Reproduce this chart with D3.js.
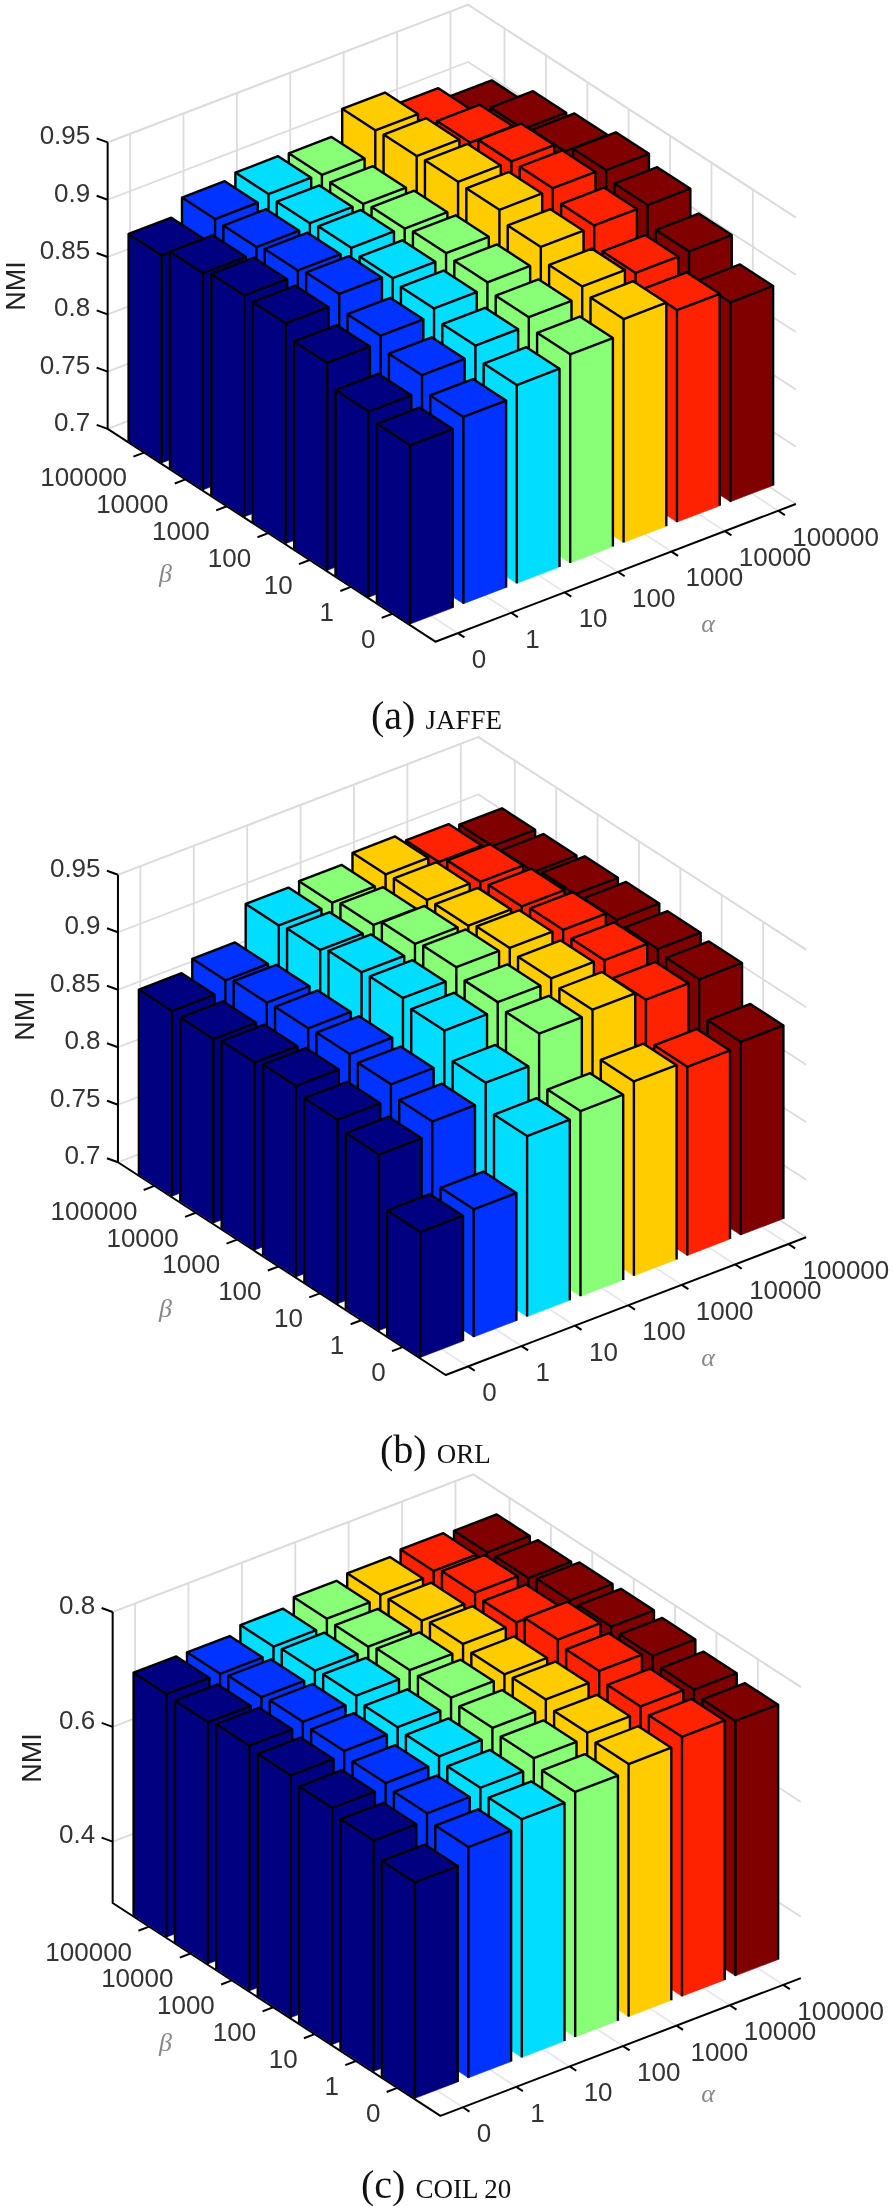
<!DOCTYPE html>
<html><head><meta charset="utf-8">
<script src="https://cdnjs.cloudflare.com/ajax/libs/d3/7.8.5/d3.min.js"></script>
<style>html,body{margin:0;padding:0;background:#fff}svg{display:block;filter:blur(0.45px)}</style>
</head><body><svg id="c" width="895" height="2206"></svg>
<script>
const alphaLabels = ["0","1","10","100","1000","10000","100000"];
const betaLabels = ["0","1","10","100","1000","10000","100000"];
const jet = ["#000080","#0033ff","#00ddff","#88ff77","#ffcc00","#ff2200","#800000"];
// each row is one alpha, values run from beta = 0 to beta = 100000
const jaffe = [
 [.856,.862,.881,.892,.893,.889,.881],
 [.863,.876,.887,.900,.897,.894,.895],
 [.873,.884,.893,.896,.899,.897,.899],
 [.882,.891,.898,.900,.898,.896,.898],
 [.895,.900,.911,.920,.921,.920,.919],
 [.885,.894,.912,.921,.921,.914,.905],
 [.874,.895,.912,.919,.912,.908,.894]];
const orl = [
 [.809,.853,.860,.866,.863,.860,.861],
 [.811,.864,.873,.876,.875,.874,.870],
 [.857,.880,.902,.907,.906,.902,.900],
 [.861,.905,.909,.916,.913,.906,.902],
 [.869,.908,.912,.915,.911,.910,.909],
 [.864,.899,.910,.913,.910,.908,.902],
 [.868,.899,.902,.904,.903,.899,.898]];
const coil = [
 [.669,.695,.705,.715,.720,.714,.716],
 [.695,.707,.713,.722,.726,.722,.716],
 [.708,.716,.724,.728,.736,.733,.728],
 [.720,.732,.738,.744,.745,.739,.741],
 [.733,.741,.752,.749,.755,.749,.747],
 [.745,.751,.766,.774,.757,.762,.753],
 [.737,.745,.757,.761,.760,.752,.750]];
const jaffeTicks=[.7,.75,.8,.85,.9,.95], orlTicks=[.7,.75,.8,.85,.9,.95], coilTicks=[.4,.6,.8];
const fmt=d=>String(+d.toFixed(2));
const panels=[
 {data:jaffe,ticks:jaffeTicks,zDom:[.7,.95],zPx:286.5,ox:414.8,oy:605.2,nmi:[24.5,286],alpha:[708,626],beta:[165.5,576],cap:["(a)","JAFFE",371,729]},
 {data:orl,ticks:orlTicks,zDom:[.7,.95],zPx:287.5,ox:425.1,oy:1338.5,nmi:[34,1016],alpha:[708,1360],beta:[165.5,1311],cap:["(b)","ORL",380,1463]},
 {data:coil,ticks:coilTicks,zDom:[.293,.8],zPx:291,ox:419.8,oy:2079.3,nmi:[41,1758],alpha:[708,2096],beta:[165.5,2045],cap:["(c)","COIL 20",361,2198]}
];
const svg=d3.select("#c");
const aMin=.58,aMax=7.33,bMin=-.04,bMax=7.88,half=.4;
panels.forEach(p=>{
 const g=svg.append("g");
 const ax=d3.scaleLinear().domain([1,7]).range([0,320.4]);
 const ay=d3.scaleLinear().domain([1,7]).range([0,-122.4]);
 const bx=d3.scaleLinear().domain([1,7]).range([0,-248.3]);
 const by=d3.scaleLinear().domain([1,7]).range([0,-161.2]);
 const zy=d3.scaleLinear().domain(p.zDom).range([0,-p.zPx]);
 const P=(a,b,z)=>[p.ox+ax(a)+bx(b),p.oy+ay(a)+by(b)+zy(z)];
 const zMin=p.zDom[0],zMax=p.zDom[1];
 const line=(pts,stroke,w)=>g.append("path").attr("d",d3.line()(pts)).attr("fill","none").attr("stroke",stroke).attr("stroke-width",w).attr("stroke-linejoin","round");
 const grid="#dcdcdc";
 const idx=d3.range(1,8);
 idx.forEach(a=>{line([P(a,bMin,zMin),P(a,bMax,zMin)],"#e6e6ee",1.8);line([P(a,bMax,zMin),P(a,bMax,zMax)],grid,1.8);});
 idx.forEach(b=>{line([P(aMin,b,zMin),P(aMax,b,zMin)],"#e6e6ee",1.8);line([P(aMax,b,zMin),P(aMax,b,zMax)],grid,1.8);});
 [...p.ticks,zMax].forEach(z=>line([P(aMin,bMax,z),P(aMax,bMax,z),P(aMax,bMin,z)],grid,1.8));
 // bars back to front; the bottom edges carry no outline in the reference
 for(let b=7;b>=1;b--)for(let a=7;a>=1;a--){
  const v=p.data[a-1][b-1],c=jet[a-1];
  const a0=a-half,a1=a+half,b0=b-half,b1=b+half;
  const faces=[
   [P(a0,b1,zMin),P(a0,b0,zMin),P(a0,b0,v),P(a0,b1,v)],
   [P(a0,b0,zMin),P(a1,b0,zMin),P(a1,b0,v),P(a0,b0,v)],
   [P(a0,b0,v),P(a1,b0,v),P(a1,b1,v),P(a0,b1,v)]];
  faces.forEach(f=>g.append("path").attr("d",d3.line()(f)+"Z").attr("fill",c).attr("stroke",c).attr("stroke-width",.6));
  line([P(a0,b1,zMin),P(a0,b1,v),P(a1,b1,v),P(a1,b0,v),P(a1,b0,zMin)],"#000",2.4);
  line([P(a0,b1,v),P(a0,b0,v),P(a1,b0,v)],"#000",2.4);
  line([P(a0,b0,v),P(a0,b0,zMin)],"#000",2.4);
 }
 // axes
 line([P(aMin,bMax,zMax),P(aMin,bMax,zMin),P(aMin,bMin,zMin),P(aMax,bMin,zMin)],"#000",2);
 const label=(x,y,anchor,t)=>g.append("text").attr("x",x).attr("y",y).attr("text-anchor",anchor).attr("dominant-baseline","middle")
   .attr("font-family","Liberation Sans").attr("font-size",26).attr("fill","#333").text(t);
 p.ticks.forEach(z=>{
  const q=P(aMin,bMax,z);
  line([q,[q[0]-11,q[1]-4]],"#000",2);
  label(q[0]-17.4,q[1]-5,"end",fmt(z));
 });
 betaLabels.forEach((t,i)=>{
  const q=P(aMin,i+1,zMin),r=P(aMin-.2,i+1,zMin);
  line([q,r],"#000",2);
  label(q[0]-17,q[1]+27,"end",t);
 });
 alphaLabels.forEach((t,i)=>{
  const q=P(i+1,bMin,zMin),r=P(i+1,bMin-.16,zMin);
  line([q,r],"#000",2);
  label(q[0]+14,q[1]+28,"start",t);
 });
 g.append("text").attr("transform",`translate(${p.nmi[0]},${p.nmi[1]}) rotate(-90)`).attr("text-anchor","middle")
  .attr("font-family","Liberation Sans").attr("font-size",27).attr("fill","#222").text("NMI");
 [["α",p.alpha],["β",p.beta]].forEach(([t,xy])=>g.append("text").attr("x",xy[0]).attr("y",xy[1]).attr("text-anchor","middle").attr("dominant-baseline","middle")
  .attr("font-family","Liberation Serif").attr("font-style","italic").attr("font-size",26).attr("fill","#888").text(t));
 const cap=g.append("text").attr("x",p.cap[2]).attr("y",p.cap[3]).attr("font-family","Liberation Serif").attr("fill","#111");
 cap.append("tspan").attr("font-size",40).text(p.cap[0]);
 cap.append("tspan").attr("font-size",27).attr("dx",10).text(p.cap[1]);
});
</script></body></html>
